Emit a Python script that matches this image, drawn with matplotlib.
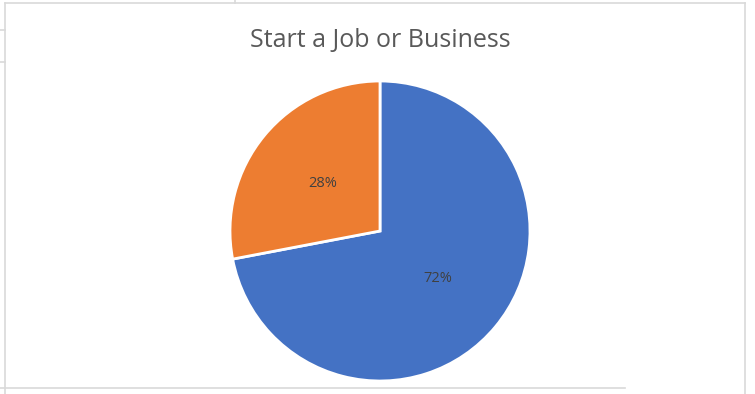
import matplotlib.pyplot as plt
from matplotlib.lines import Line2D

# Survey split for "Start a Job or Business"
labels = ['Job', 'Business']
shares = [72, 28]
colors = ['#4472C4', '#ED7D31']

W, H = 755, 394
fig = plt.figure(figsize=(W / 100, H / 100), dpi=100)
fig.patch.set_facecolor('white')

# pie centre at (380, 231) px from top-left, radius 150 px
cx, cy, r = 380, 231, 150
ax = fig.add_axes([(cx - r) / W, (H - cy - r) / H, 2 * r / W, 2 * r / H])
ax.pie(shares, colors=colors, startangle=90, counterclock=False,
       autopct='%1.0f%%', pctdistance=0.5,
       wedgeprops=dict(edgecolor='white', linewidth=2),
       textprops=dict(color='#404040', fontsize=10.5, family='Open Sans'))
ax.set_xlim(-1.0, 1.0)
ax.set_ylim(-1.0, 1.0)
ax.axis('off')

fig.text(cx / W, 1 - 41 / H, 'Start a Job or Business', ha='center', va='center',
         fontsize=18, color='#595959', family='Open Sans')

# chart frame edges
def px_line(x0, y0, x1, y1, color='#d9d9d9', lw=1.2):
    fig.add_artist(Line2D([x0 / W, x1 / W], [1 - y0 / H, 1 - y1 / H],
                          color=color, lw=lw, transform=fig.transFigure))

px_line(5, 3, 745, 3)
px_line(5, 3, 5, 394)
px_line(745, 3, 745, 394)
px_line(0, 388, 625, 388)
px_line(0, 30, 5, 30)
px_line(0, 62, 5, 62)
px_line(235, 0, 235, 3)

fig.savefig('out.png', dpi=100, facecolor='white')
